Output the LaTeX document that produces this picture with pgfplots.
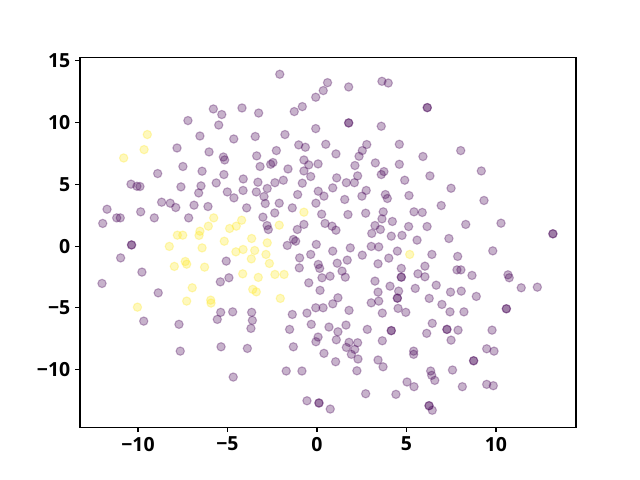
\documentclass[border=0pt]{standalone}
\usepackage{pgfplots}
\pgfplotsset{compat=1.18}
\usepackage{fontspec}
\setmainfont{Open Sans}
\definecolor{vpurple}{RGB}{68,1,84}
\definecolor{vyellow}{RGB}{253,231,37}
\begin{document}
\begin{tikzpicture}
\path[use as bounding box] (-57.6pt,-38.02pt) rectangle (403.2pt,307.58pt);
\begin{axis}[
  at={(0,0)}, anchor=south west,
  scale only axis, width=357.12pt, height=266.11pt,
  xmin=-13.24, xmax=14.47, ymin=-14.66, ymax=15.27,
  axis line style={black, line width=0.8pt},
  tick align=outside, tick pos=left,
  major tick length=3.5pt,
  every tick/.style={black, line width=0.8pt},
  xtick={-10,-5,0,5,10}, xticklabels={−10,−5,0,5,10},
  ytick={-10,-5,0,5,10,15}, yticklabels={−10,−5,0,5,10,15},
  ticklabel style={font=\fontsize{14}{16}\selectfont\bfseries},
  /pgf/number format/assume math mode=true,
  clip=false,
]
\addplot[only marks, mark=*, mark size=3pt, mark options={line width=0.8pt, draw=vpurple, fill=vpurple, opacity=0.3}] coordinates {
(-7.21,10.17)(-6.54,8.92)(-7.82,7.95)(-7.49,6.45)(-6.42,6.07)(-8.90,5.88)(-10.39,5.02)(-10.06,4.85)(-9.89,4.83)
(-2.08,13.92)(0.59,13.24)(0.35,12.60)(-0.07,12.06)(-5.79,11.11)(-5.32,10.66)(-4.19,11.19)(-3.26,10.78)(-1.27,10.90)(-0.82,11.30)
(-5.49,9.81)(-0.07,9.52)(-4.65,8.68)(-3.45,8.88)(-1.79,9.04)(-1.02,8.20)(-0.65,8.01)(0.49,8.25)(-6.03,7.63)(-5.23,7.22)(-5.16,6.98)
(-3.37,7.31)(-2.27,7.74)(-3.18,6.45)(-2.59,6.63)(-2.46,6.77)(-1.62,6.25)(-0.73,6.98)(-0.46,6.58)(0.06,6.66)(-0.73,6.09)(-0.35,5.64)
(-5.20,5.80)(-5.63,5.12)(-4.12,5.44)(-3.30,5.18)(-2.35,5.14)(-1.88,5.34)(-0.82,5.10)
(1.77,12.89)(3.63,13.35)(3.98,13.21)(6.16,11.22)(6.16,11.22)(1.77,9.98)(1.77,9.98)(3.59,9.71)(2.78,8.23)(2.53,7.74)(2.35,7.28)
(4.60,8.25)(1.06,7.47)(5.92,7.26)(2.12,6.53)(3.26,6.74)(4.60,6.63)(3.74,6.04)(3.59,5.80)(2.27,5.69)(1.10,5.53)(4.90,5.34)(6.31,5.69)
(1.64,5.14)(2.09,5.14)(0.88,4.72)(2.75,4.51)(2.51,4.05)(3.82,4.18)(3.93,3.86)(5.14,4.10)(7.49,4.69)(1.55,3.78)(6.94,3.29)
(1.73,2.56)(2.72,2.67)(3.70,2.78)(3.63,2.21)(5.42,2.78)(5.88,2.73)(4.21,2.00)(0.45,1.84)(0.84,1.62)(1.06,1.29)(3.24,1.67)(3.54,1.35)
(3.06,1.03)(5.12,1.59)(6.15,1.59)(4.15,0.81)(4.75,0.87)(5.59,0.49)(7.37,0.62)(3.03,-0.02)(3.45,-0.06)(1.86,-0.14)(0.88,-0.40)
(4.49,-0.40)(6.42,-0.67)(2.53,-0.73)(4.01,-0.97)(3.41,-1.43)(1.69,-1.13)(1.13,-1.38)(6.03,-1.62)(1.40,-2.02)(1.58,-2.51)(0.73,-2.43)
(4.71,-1.80)(4.71,-2.51)(4.71,-2.51)(5.64,-2.24)(6.03,-2.48)(3.24,-2.83)(6.66,-3.16)(4.08,-3.24)(5.49,-3.42)(7.46,-3.72)(4.56,-3.64)
(3.41,-3.72)(1.17,-4.18)(4.49,-4.21)(4.49,-4.21)(6.27,-4.23)(3.03,-4.59)(3.45,-4.45)(0.88,-4.67)(6.98,-4.72)
(9.33,3.70)(8.31,1.76)(10.28,1.86)(13.18,1.00)(13.18,1.00)(7.86,-0.83)(9.82,-0.38)(7.82,-1.92)(8.04,-1.92)(8.66,-2.37)(10.67,-2.32)
(10.74,-2.56)(11.41,-3.37)(12.31,-3.32)(8.06,-3.64)(8.90,-4.07)(10.58,-5.07)(10.58,-5.07)(8.03,7.74)(9.18,6.09)
(-7.60,4.80)(-6.48,4.88)(-6.61,4.31)(-8.68,3.56)(-8.20,3.48)(-7.89,3.13)(-6.87,3.32)(-11.73,2.99)(-11.19,2.29)(-10.99,2.29)
(-9.85,2.78)(-9.09,2.29)(-7.17,2.29)(-11.97,1.84)(-10.36,0.10)(-10.36,0.10)(-10.97,-0.95)(-9.78,-2.10)(-12.01,-3.02)(-8.87,-3.78)
(-2.78,4.67)(-5.01,4.39)(-4.64,3.91)(-4.13,4.51)(-3.39,4.39)(-2.96,4.02)(-2.89,3.45)(-1.08,4.18)(0.07,4.45)(0.39,4.05)
(-6.09,3.21)(-3.93,3.10)(-2.11,3.48)(-1.38,3.10)(-0.06,3.48)(-2.36,2.69)(0.26,2.59)(-3.02,2.35)(-2.79,1.67)(-2.72,1.35)
(-0.73,1.76)(-1.10,1.35)(-1.66,0.06)(-1.32,0.54)(-1.19,0.40)(-0.04,0.14)(-5.07,-1.21)(-0.97,-0.95)(-0.35,-0.67)(-0.99,-1.76)
(0.07,-1.48)(0.15,-1.80)(-4.92,-2.56)(-5.40,-2.89)(0.28,-2.56)(-0.46,-2.97)(0.17,-3.58)(-0.07,-4.99)(0.34,-4.99)
(-9.68,-6.07)(-7.71,-6.33)(-7.64,-8.50)(-5.38,-5.36)(-5.57,-5.93)(-4.71,-5.32)(-3.65,-5.36)(-3.61,-6.01)(-3.69,-6.66)
(-1.38,-5.53)(-0.56,-5.42)(-1.53,-6.74)(-0.32,-6.33)(0.67,-6.55)(0.06,-7.36)(-0.06,-7.74)(-5.36,-8.15)(-3.89,-8.28)(-1.32,-8.15)
(0.39,-8.68)(-4.68,-10.60)(-1.72,-10.11)(-0.84,-10.11)(-0.56,-12.52)(0.11,-12.70)(0.11,-12.70)(0.74,-13.19)
(1.79,-5.20)(3.65,-5.42)(4.53,-5.04)(4.96,-5.36)(7.43,-5.32)(8.21,-5.32)(1.17,-6.93)(1.62,-6.39)(2.81,-6.74)(4.15,-6.84)(4.15,-6.84)
(6.44,-6.25)(6.13,-7.06)(7.26,-6.74)(7.26,-6.74)(7.49,-7.61)(1.08,-7.58)(1.79,-7.79)(2.27,-7.82)(1.64,-8.20)(2.11,-8.36)(1.92,-8.76)
(2.29,-9.14)(3.65,-7.66)(5.40,-8.50)(5.40,-8.76)(1.04,-9.36)(3.41,-9.22)(3.69,-9.77)(2.23,-10.09)(6.35,-10.11)(6.41,-10.46)(6.58,-10.87)
(7.57,-10.03)(5.03,-11.00)(5.42,-11.38)(2.72,-11.95)(4.41,-12.00)(6.26,-12.92)(6.26,-12.92)(6.44,-13.29)
(7.88,-6.80)(9.78,-6.80)(9.48,-8.31)(9.89,-8.50)(8.75,-9.28)(8.75,-9.28)(8.12,-11.38)(9.48,-11.19)(9.85,-11.30)
};
\addplot[only marks, mark=*, mark size=3pt, mark options={line width=0.8pt, draw=vyellow, fill=vyellow, opacity=0.3}] coordinates {
(-9.48,9.04)(-9.66,7.82)(-10.80,7.14)(-7.80,0.89)(-7.50,0.89)(-6.54,1.21)(-6.59,0.87)(-8.25,-0.02)(-6.42,-0.14)(-7.36,-1.24)
(-7.28,-1.46)(-7.97,-1.64)(-6.28,-1.70)(-6.97,-3.37)(-7.28,-4.45)(-10.03,-4.94)(-0.73,2.75)(-5.77,2.29)(-6.07,1.62)(-4.88,1.43)
(-4.51,1.62)(-4.21,2.10)(-2.11,1.70)(-5.18,0.40)(-3.65,0.62)(-2.78,0.27)(-4.53,-0.46)(-4.13,-0.27)(-3.48,-0.35)(-2.85,-0.67)
(-3.67,-1.03)(-2.66,-1.40)(-4.15,-2.24)(-3.28,-2.53)(-2.35,-2.29)(-1.84,-2.29)(-3.59,-3.50)(-3.39,-3.70)(-2.05,-4.23)
(-5.94,-4.37)(-5.92,-4.61)(5.18,-0.67)
};
\end{axis}
\end{tikzpicture}
\end{document}
